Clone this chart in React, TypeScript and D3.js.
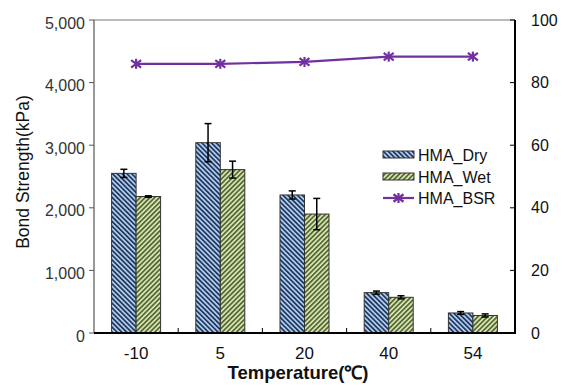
import React from "react";
import * as d3 from "d3";

const categories = ["-10", "5", "20", "40", "54"];
const dryValues = [2550, 3040, 2205, 645, 320];
const dryErrors = [65, 305, 65, 25, 22];
const wetValues = [2180, 2610, 1900, 570, 280];
const wetErrors = [12, 135, 250, 25, 25];
const bsrValues = [86.0, 86.0, 86.6, 88.3, 88.3];
const leftTicks = [0, 1000, 2000, 3000, 4000, 5000];
const rightTicks = [0, 20, 40, 60, 80, 100];

const W = 570, H = 386;
const L = 94, R = 515, T = 20, B = 333;
const FONT = "'Liberation Sans', Arial, sans-serif";

export default function App() {
  const x = d3.scaleBand<string>().domain(categories).range([L, R]).paddingInner(0).paddingOuter(0);
  const yL = d3.scaleLinear().domain([0, 5000]).range([B, T]);
  const yR = d3.scaleLinear().domain([0, 100]).range([B, T]);
  const barW = 24.5;
  const line = d3.line<number>().x((_, i) => x(categories[i])! + x.bandwidth() / 2).y((d) => yR(d));
  const fmt = d3.format(",");

  const star = (cx: number, cy: number, k: number) => {
    const s = 5;
    return (
      <g key={k} stroke="#7030A0" strokeWidth={2.2}>
        <line x1={cx - s} y1={cy - s * 0.75} x2={cx + s} y2={cy + s * 0.75} />
        <line x1={cx - s} y1={cy + s * 0.75} x2={cx + s} y2={cy - s * 0.75} />
        <line x1={cx} y1={cy - s} x2={cx} y2={cy + s} />
      </g>
    );
  };

  const errBar = (cx: number, v: number, e: number, k: string) => (
    <g key={k} stroke="#000" strokeWidth={1.5}>
      <line x1={cx} x2={cx} y1={yL(v + e)} y2={yL(v - e)} />
      <line x1={cx - 3.5} x2={cx + 3.5} y1={yL(v + e)} y2={yL(v + e)} />
      <line x1={cx - 3.5} x2={cx + 3.5} y1={yL(v - e)} y2={yL(v - e)} />
    </g>
  );

  return (
    <svg width={W} height={H} style={{ position: "absolute", left: 0, top: 0, background: "#fff" }} fontFamily={FONT}>
      <defs>
        <pattern id="dry" patternUnits="userSpaceOnUse" width={3.4} height={3.4} patternTransform="rotate(-45)">
          <rect width={3.4} height={3.4} fill="#BBD3EC" />
          <rect width={1.8} height={3.4} fill="#1F3A66" />
        </pattern>
        <pattern id="wet" patternUnits="userSpaceOnUse" width={3.4} height={3.4} patternTransform="rotate(45)">
          <rect width={3.4} height={3.4} fill="#DCE8C2" />
          <rect width={1.8} height={3.4} fill="#566B2C" />
        </pattern>
      </defs>

      {/* bars */}
      {categories.map((c, i) => {
        const cx = x(c)! + x.bandwidth() / 2;
        return (
          <g key={c}>
            <rect x={cx - barW} y={yL(dryValues[i])} width={barW} height={B - yL(dryValues[i])} fill="url(#dry)" stroke="#333" strokeWidth={1} />
            <rect x={cx} y={yL(wetValues[i])} width={barW} height={B - yL(wetValues[i])} fill="url(#wet)" stroke="#333" strokeWidth={1} />
            {errBar(cx - barW / 2, dryValues[i], dryErrors[i], "d" + i)}
            {errBar(cx + barW / 2, wetValues[i], wetErrors[i], "w" + i)}
          </g>
        );
      })}

      {/* frame */}
      <line x1={L} x2={R} y1={T} y2={T} stroke="#777" strokeWidth={1} />
      <line x1={L} x2={L} y1={T} y2={B} stroke="#555" strokeWidth={1.2} />
      <line x1={R} x2={R} y1={T} y2={B + 1} stroke="#000" strokeWidth={2} />
      <line x1={L} x2={R + 1} y1={B} y2={B} stroke="#000" strokeWidth={2} />

      {/* left ticks */}
      {leftTicks.map((t) => (
        <g key={"l" + t}>
          <line x1={L - 5} x2={L} y1={yL(t)} y2={yL(t)} stroke="#555" strokeWidth={1} />
          <text x={85} y={yL(t) + 3} dy="0.35em" textAnchor="end" fontSize={16} fill="#333">{fmt(t)}</text>
        </g>
      ))}
      {/* right ticks */}
      {rightTicks.map((t) => (
        <g key={"r" + t}>
          <line x1={R - 5} x2={R} y1={yR(t)} y2={yR(t)} stroke="#000" strokeWidth={1} />
          <text x={531} y={yR(t)} dy="0.35em" textAnchor="start" fontSize={16} fill="#111">{t}</text>
        </g>
      ))}
      {/* x ticks */}
      {categories.slice(1).map((c) => (
        <line key={"xt" + c} x1={x(c)!} x2={x(c)!} y1={B} y2={B - 5} stroke="#000" strokeWidth={1} />
      ))}
      {categories.map((c) => (
        <text key={"xl" + c} x={x(c)! + x.bandwidth() / 2} y={353} dy="0.35em" textAnchor="middle" fontSize={17} fill="#111">{c}</text>
      ))}

      {/* BSR line */}
      <path d={line(bsrValues) || ""} fill="none" stroke="#7030A0" strokeWidth={2.2} />
      {bsrValues.map((v, i) => star(x(categories[i])! + x.bandwidth() / 2, yR(v), i))}

      {/* axis titles */}
      <text x={298} y={379} textAnchor="middle" fontSize={18.5} fontWeight="bold" fill="#111">Temperature(℃)</text>
      <text transform="translate(29,172) rotate(-90)" textAnchor="middle" fontSize={17.5} fill="#111">Bond Strength(kPa)</text>

      {/* legend */}
      <g>
        <rect x={383} y={151} width={31} height={7} fill="url(#dry)" stroke="#333" strokeWidth={1} />
        <text x={418} y={155} dy="0.35em" fontSize={16} fill="#111">HMA_Dry</text>
        <rect x={383} y={173} width={31} height={7} fill="url(#wet)" stroke="#333" strokeWidth={1} />
        <text x={418} y={177} dy="0.35em" fontSize={16} fill="#111">HMA_Wet</text>
        <line x1={383} x2={414} y1={198} y2={198} stroke="#7030A0" strokeWidth={2.2} />
        {star(398.5, 198, 99)}
        <text x={418} y={198} dy="0.35em" fontSize={16} fill="#111">HMA_BSR</text>
      </g>
    </svg>
  );
}
